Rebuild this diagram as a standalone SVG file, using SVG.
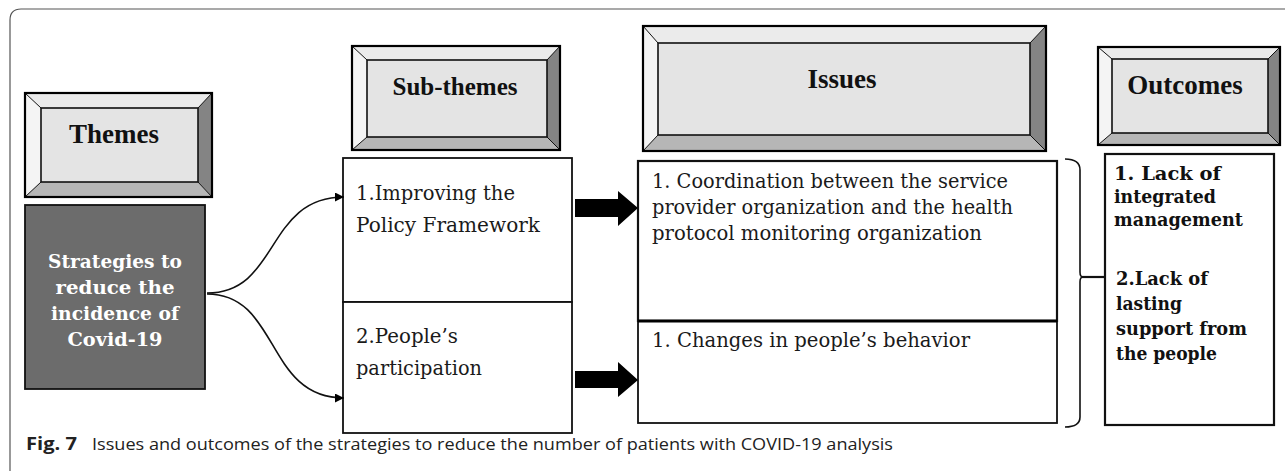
<svg xmlns="http://www.w3.org/2000/svg" width="1285" height="471" viewBox="0 0 1285 471">
<defs>
<style>
.frame{fill:none;stroke:#555;stroke-width:1.2}
.bt{fill:#ebebeb}.bl{fill:#f4f4f4}.br{fill:#848484}.bb{fill:#b6b6b6}
.inner{fill:#e4e4e4;stroke:#111;stroke-width:1.6}
.outer{fill:none;stroke:#000;stroke-width:2.2}
.diag{stroke:#111;stroke-width:1}
.hdr{font-family:"Liberation Serif","Times New Roman",serif;font-weight:bold;fill:#111;text-anchor:middle}
.box{fill:#fff;stroke:#111;stroke-width:1.8}
.body{font-family:"DejaVu Serif","Liberation Serif",serif;font-size:20px;fill:#1a1a1a}
.bold{font-family:"DejaVu Serif","Liberation Serif",serif;font-size:19px;font-weight:bold;fill:#111}
.white{font-family:"DejaVu Serif","Liberation Serif",serif;font-size:19px;font-weight:bold;fill:#fff;text-anchor:middle}
.conn{fill:none;stroke:#111;stroke-width:1.6}
.block{fill:#000}
.cap{font-family:"Open Sans","Noto Sans",sans-serif;font-size:17px;fill:#222}
</style>
<marker id="ah" viewBox="0 0 10 10" refX="10" refY="5" markerWidth="9" markerHeight="9" markerUnits="userSpaceOnUse" orient="auto">
<path d="M0,0 L10,5 L0,10 Z" fill="#000"/>
</marker>
</defs>
<rect width="1285" height="471" fill="#fff"/>
<path class="frame" d="M10,471 V20 Q10,9 21,9 H1285"/>

<g id="themes-header">
<polygon class="bt" points="25,93 212,93 198,108 41,108"/>
<polygon class="bl" points="25,93 41,108 41,182 25,197"/>
<polygon class="br" points="212,93 212,197 198,182 198,108"/>
<polygon class="bb" points="25,197 212,197 198,182 41,182"/>
<line class="diag" x1="25" y1="93" x2="41" y2="108"/><line class="diag" x1="212" y1="93" x2="198" y2="108"/>
<line class="diag" x1="25" y1="197" x2="41" y2="182"/><line class="diag" x1="212" y1="197" x2="198" y2="182"/>
<rect class="inner" x="41" y="108" width="157" height="74"/>
<rect class="outer" x="25" y="93" width="187" height="104"/>
<text class="hdr" x="114" y="143" font-size="27">Themes</text>
</g>

<g id="subthemes-header">
<polygon class="bt" points="352,46 560,46 547,60 367,60"/>
<polygon class="bl" points="352,46 367,60 367,137 352,150"/>
<polygon class="br" points="560,46 560,150 547,137 547,60"/>
<polygon class="bb" points="352,150 560,150 547,137 367,137"/>
<line class="diag" x1="352" y1="46" x2="367" y2="60"/><line class="diag" x1="560" y1="46" x2="547" y2="60"/>
<line class="diag" x1="352" y1="150" x2="367" y2="137"/><line class="diag" x1="560" y1="150" x2="547" y2="137"/>
<rect class="inner" x="367" y="60" width="180" height="77"/>
<rect class="outer" x="352" y="46" width="208" height="104"/>
<text class="hdr" x="455" y="95" font-size="25">Sub-themes</text>
</g>

<g id="issues-header">
<polygon class="bt" points="643,26 1046,26 1030,43 658,43"/>
<polygon class="bl" points="643,26 658,43 658,135 643,151"/>
<polygon class="br" points="1046,26 1046,151 1030,135 1030,43"/>
<polygon class="bb" points="643,151 1046,151 1030,135 658,135"/>
<line class="diag" x1="643" y1="26" x2="658" y2="43"/><line class="diag" x1="1046" y1="26" x2="1030" y2="43"/>
<line class="diag" x1="643" y1="151" x2="658" y2="135"/><line class="diag" x1="1046" y1="151" x2="1030" y2="135"/>
<rect class="inner" x="658" y="43" width="372" height="92"/>
<rect class="outer" x="643" y="26" width="403" height="125"/>
<text class="hdr" x="842" y="88" font-size="27">Issues</text>
</g>

<g id="outcomes-header">
<polygon class="bt" points="1098,47 1280,47 1268,59 1112,59"/>
<polygon class="bl" points="1098,47 1112,59 1112,133 1098,145"/>
<polygon class="br" points="1280,47 1280,145 1268,133 1268,59"/>
<polygon class="bb" points="1098,145 1280,145 1268,133 1112,133"/>
<line class="diag" x1="1098" y1="47" x2="1112" y2="59"/><line class="diag" x1="1280" y1="47" x2="1268" y2="59"/>
<line class="diag" x1="1098" y1="145" x2="1112" y2="133"/><line class="diag" x1="1280" y1="145" x2="1268" y2="133"/>
<rect class="inner" x="1112" y="59" width="156" height="74"/>
<rect class="outer" x="1098" y="47" width="182" height="98"/>
<text class="hdr" x="1185" y="94" font-size="27">Outcomes</text>
</g>

<g id="strategies">
<rect x="25" y="205" width="180" height="184" fill="#6c6c6c" stroke="#111" stroke-width="1.8"/>
<text class="white" x="115" y="268" textLength="134" lengthAdjust="spacingAndGlyphs">Strategies to</text>
<text class="white" x="115" y="294" textLength="119" lengthAdjust="spacingAndGlyphs">reduce the</text>
<text class="white" x="115" y="320" textLength="128" lengthAdjust="spacingAndGlyphs">incidence of</text>
<text class="white" x="115" y="346" textLength="95" lengthAdjust="spacingAndGlyphs">Covid-19</text>
</g>

<g id="subtheme-1">
<rect class="box" x="343" y="158" width="229" height="144"/>
<text class="body" x="356" y="200" textLength="159" lengthAdjust="spacingAndGlyphs">1.Improving the</text>
<text class="body" x="356" y="232" textLength="184" lengthAdjust="spacingAndGlyphs">Policy Framework</text>
</g>
<g id="subtheme-2">
<rect class="box" x="343" y="302" width="229" height="131"/>
<text class="body" x="356" y="343" textLength="102" lengthAdjust="spacingAndGlyphs">2.People’s</text>
<text class="body" x="356" y="375" textLength="126" lengthAdjust="spacingAndGlyphs">participation</text>
</g>

<g id="issue-1">
<rect x="638" y="161" width="419" height="160" fill="#fff" stroke="#111" stroke-width="2.2"/>
<text class="body" x="652" y="188" textLength="356" lengthAdjust="spacingAndGlyphs">1. Coordination between the service</text>
<text class="body" x="652" y="214" textLength="361" lengthAdjust="spacingAndGlyphs">provider organization and the health</text>
<text class="body" x="652" y="240" textLength="330" lengthAdjust="spacingAndGlyphs">protocol monitoring organization</text>
</g>
<g id="issue-2">
<rect x="638" y="321" width="419" height="102" fill="#fff" stroke="#111" stroke-width="1.8"/>
<line x1="638" y1="321" x2="1057" y2="321" stroke="#000" stroke-width="2.8"/>
<text class="body" x="652" y="347" textLength="318" lengthAdjust="spacingAndGlyphs">1. Changes in people’s behavior</text>
</g>

<g id="outcomes">
<rect x="1105" y="154" width="169" height="271" fill="#fff" stroke="#111" stroke-width="2.2"/>
<text class="bold" x="1114" y="180" textLength="107" lengthAdjust="spacingAndGlyphs">1.  Lack of</text>
<text class="bold" x="1114" y="203" textLength="102" lengthAdjust="spacingAndGlyphs">integrated</text>
<text class="bold" x="1114" y="226" textLength="129" lengthAdjust="spacingAndGlyphs">management</text>
<text class="bold" x="1116" y="285" textLength="92" lengthAdjust="spacingAndGlyphs">2.Lack of</text>
<text class="bold" x="1116" y="310" textLength="66" lengthAdjust="spacingAndGlyphs">lasting</text>
<text class="bold" x="1116" y="335" textLength="131" lengthAdjust="spacingAndGlyphs">support from</text>
<text class="bold" x="1116" y="360" textLength="101" lengthAdjust="spacingAndGlyphs">the people</text>
</g>

<g id="connectors">
<path class="conn" d="M207,293 C280,293 265,197 344,197" marker-end="url(#ah)"/>
<path class="conn" d="M207,294 C280,294 265,398 344,398" marker-end="url(#ah)"/>
<polygon class="block" points="575,199 618,199 618,191 638,208 618,226 618,217 575,217"/>
<polygon class="block" points="575,371 618,371 618,362 638,380 618,397 618,388 575,388"/>
<path class="conn" d="M1065,159 Q1080,159 1080,170 V272 Q1080,277 1083,277 Q1080,277 1080,282 V417 Q1080,427 1065,427"/>
<line x1="1082" y1="277" x2="1105" y2="277" stroke="#111" stroke-width="2.2"/>
</g>

<text class="cap" x="26" y="450" font-weight="bold" font-size="18" textLength="51" lengthAdjust="spacingAndGlyphs">Fig. 7</text>
<text class="cap" x="92" y="450" textLength="801" lengthAdjust="spacingAndGlyphs">Issues and outcomes of the strategies to reduce the number of patients with COVID-19 analysis</text>
</svg>
